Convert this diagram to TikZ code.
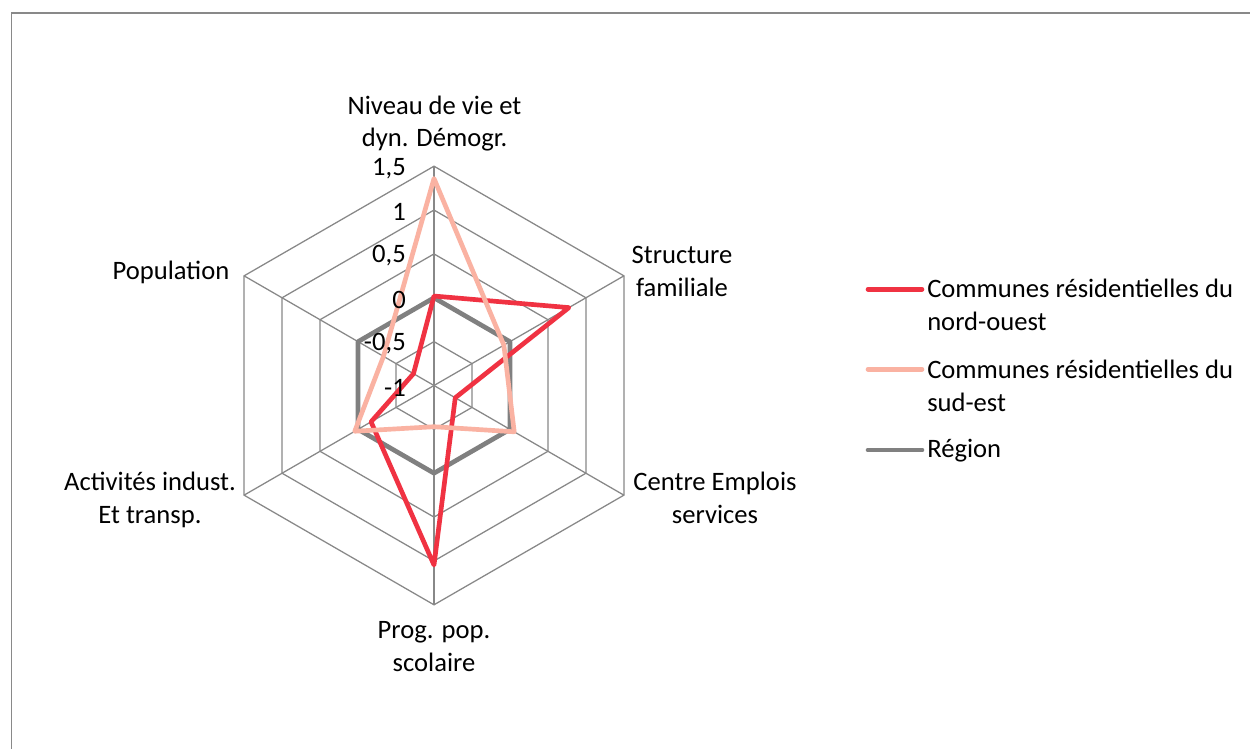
\documentclass[tikz,border=0pt]{standalone}
\usepackage{fontspec}
\setmainfont{Carlito}
\definecolor{nwred}{RGB}{240,50,66}
\definecolor{sesalmon}{RGB}{250,178,162}
\definecolor{reggray}{RGB}{128,128,128}
\definecolor{gridgray}{RGB}{136,136,136}
\definecolor{bordergray}{RGB}{137,137,137}
\begin{document}
\begin{tikzpicture}[x=0.75pt,y=-0.75pt,
  font=\fontsize{19.95}{24.75}\selectfont,
  gridline/.style={draw=gridgray, line width=0.95pt},
  series/.style={line width=3.5pt, line join=round, line cap=round},
  axlbl/.style={anchor=base, inner sep=0pt},
  ticklbl/.style={anchor=east, inner sep=0pt},
  leglbl/.style={anchor=base west, inner sep=0pt}]
\useasboundingbox (0,0) rectangle (1250,749);
\fill[white] (0,0) rectangle (1250,749);
% frame
\coordinate (frTR) at (1250,13);
\coordinate (frTL) at (11.5,13);
\coordinate (frBL) at (11.5,749);
\draw[bordergray, line width=1.1pt] (frTR) -- (frTL) -- (frBL);

\begin{scope}[shift={(434,385.5)}, y=0.75pt]
  % grid rings
  \foreach \k in {1,...,5}{
    \draw[gridline] (90:{43.86*\k}) -- (30:{43.86*\k}) -- (-30:{43.86*\k}) -- (-90:{43.86*\k}) -- (-150:{43.86*\k}) -- (150:{43.86*\k}) -- cycle;
  }
  \coordinate (ctr) at (0,0);
  \foreach \a/\n in {90/a1,30/a2,-30/a3,-90/a4,-150/a5,150/a6}{
    \coordinate (\n) at (\a:219.3);
    \draw[gridline] (ctr) -- (\n);
  }
  % series points: r = (v+1)*87.7
  \foreach \a/\v/\n in {90/0/g1,30/0/g2,-30/0/g3,-90/0/g4,-150/0/g5,150/0/g6}{
    \coordinate (\n) at (\a:{(\v+1)*87.7});
  }
  \foreach \a/\v/\n in {90/0.02/r1,30/0.776/r2,-30/-0.72/r3,-90/1.047/r4,-150/-0.171/r5,150/-0.73/r6}{
    \coordinate (\n) at (\a:{(\v+1)*87.7});
  }
  \foreach \a/\v/\n in {90/1.36/s1,30/-0.08/s2,-30/0.056/s3,-90/-0.53/s4,-150/0.043/s5,150/-0.335/s6}{
    \coordinate (\n) at (\a:{(\v+1)*87.7});
  }
  \draw[series, reggray] (g1) -- (g2) -- (g3) -- (g4) -- (g5) -- (g6) -- cycle;
  \draw[series, nwred] (r1) -- (r2) -- (r3) -- (r4) -- (r5) -- (r6) -- cycle;
  \draw[series, sesalmon] (s1) -- (s2) -- (s3) -- (s4) -- (s5) -- (s6) -- cycle;
\end{scope}

% tick labels
\node[ticklbl] (t15) at (406,168.2) {1,5};
\node[ticklbl] (t10) at (406,212.0) {1};
\node[ticklbl] (t05) at (406,255.9) {0,5};
\node[ticklbl] (t00) at (406,299.8) {0};
\node[ticklbl] (tm05) at (406,343.6) {-0,5};
\node[ticklbl] (tm10) at (406,387.5) {-1};

% axis labels
\node[axlbl] (l1a) at (434.5,114.3) {Niveau de vie et};
\node[axlbl] (l1b) at (434.5,146.7) {dyn. Démogr.};
\node[axlbl] (l2a) at (682,263.3) {Structure};
\node[axlbl] (l2b) at (682,296.7) {familiale};
\node[axlbl] (l3a) at (715,490.5) {Centre Emplois};
\node[axlbl] (l3b) at (715,523) {services};
\node[axlbl] (l4a) at (434,638.3) {Prog. pop.};
\node[axlbl] (l4b) at (434,671.7) {scolaire};
\node[axlbl] (l5a) at (150,490.5) {Activités indust.};
\node[axlbl] (l5b) at (150,523) {Et transp.};
\node[axlbl] (l6) at (171,279.3) {Population};

% legend
\coordinate (k1a) at (868,289.3); \coordinate (k1b) at (922,289.3);
\coordinate (k2a) at (868,369.3); \coordinate (k2b) at (922,369.3);
\coordinate (k3a) at (868,450); \coordinate (k3b) at (922,450);
\draw[series, nwred] (k1a) -- (k1b);
\draw[series, sesalmon] (k2a) -- (k2b);
\draw[series, reggray] (k3a) -- (k3b);
\node[leglbl] (e1a) at (927,297.5) {Communes résidentielles du};
\node[leglbl] (e1b) at (927,330.5) {nord-ouest};
\node[leglbl] (e2a) at (927,378) {Communes résidentielles du};
\node[leglbl] (e2b) at (927,411) {sud-est};
\node[leglbl] (e3) at (927,457) {Région};
\end{tikzpicture}
\end{document}
